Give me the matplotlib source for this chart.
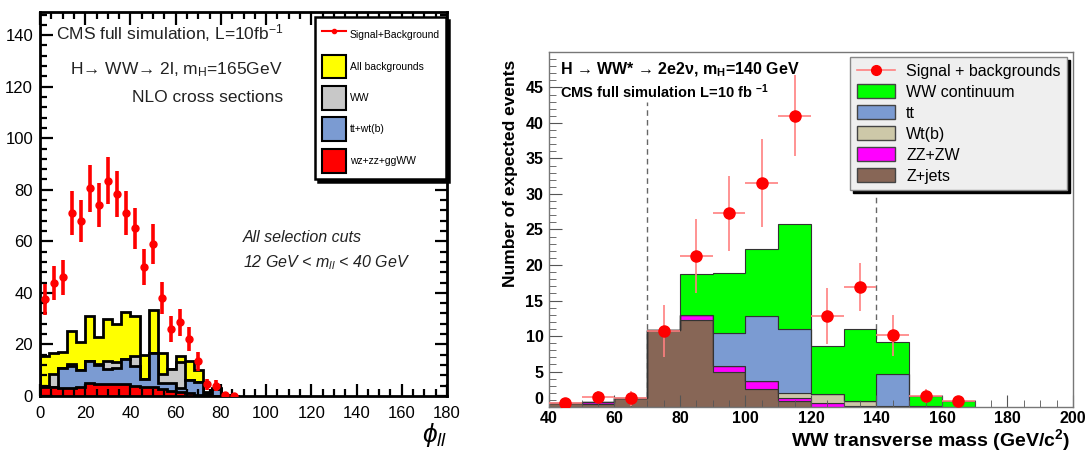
import numpy as np
import matplotlib.pyplot as plt
from matplotlib.ticker import MultipleLocator
from matplotlib.lines import Line2D
from matplotlib.patches import Patch

plt.rcParams['font.family'] = ['Liberation Sans', 'DejaVu Sans']
plt.rcParams['mathtext.fontset'] = 'custom'
plt.rcParams['mathtext.rm'] = 'Liberation Sans'
plt.rcParams['mathtext.it'] = 'Liberation Sans:italic'
plt.rcParams['mathtext.bf'] = 'Liberation Sans:bold'

# ---- left panel: phi_ll, 4 degree bins from 0 to 88
phi_edges = np.arange(0, 92, 4)
phi_centers = phi_edges[:-1] + 2
all_bkg = [15.5, 16.5, 17, 25, 21, 31, 23, 30, 28, 32.5, 31, 16, 33.5, 16.5, 10.5, 15.5, 13.5, 10, 1.5, 3, 0.5, 0]
ww_cum = [4, 8.5, 11, 12.5, 10, 13.5, 12.5, 13.5, 13, 14.5, 15.5, 6.5, 16.5, 8.5, 10.5, 13, 6, 5.5, 1, 2.5, 0.3, 0]
tt_cum = [4, 3.5, 11, 11.5, 10, 13.5, 12, 10.5, 11, 14.5, 11.5, 6.5, 16.5, 5, 5, 3, 6, 5.5, 0.5, 2.5, 0, 0]
other = [3.5, 3.5, 3, 3, 3.5, 5, 4.5, 4.5, 4.5, 4.5, 4, 3.5, 3.5, 2.5, 2, 1.5, 1, 0.5, 0, 0, 0, 0]
sig_bkg = [37.5, 44, 46, 71, 68, 80.5, 74, 83.5, 78.5, 71, 65, 50, 59, 38, 26, 28.5, 22, 13.5, 4.5, 4, 0.3, 0.1]
sig_err = [6.1, 6.6, 6.8, 8.4, 8.2, 9.0, 8.6, 9.1, 8.9, 8.4, 8.1, 7.1, 7.7, 6.2, 5.1, 5.3, 4.7, 3.7, 2.1, 2.0, 0.5, 0.3]

# ---- right panel: WW transverse mass, 10 GeV bins from 40 to 170
mt_edges = np.arange(40, 180, 10)
mt_centers = mt_edges[:-1] + 5
zjets = [0.5, 0.4, 1.3, 10.8, 12.2, 5.0, 2.6, 0.8, 0.0, 0.0, 0.0, 0.0, 0.0]
zzzw = [0.0, 0.3, 0.0, 0.0, 0.7, 0.8, 1.0, 0.4, 0.5, 0.2, 0.1, 0.0, 0.0]
wtb = [0.0, 0.0, 0.0, 0.0, 0.0, 0.0, 0.0, 0.8, 1.3, 0.6, 0.1, 0.2, 0.0]
ttbar = [0.0, 0.0, 0.0, 0.0, 0.0, 4.6, 9.2, 9.0, 0.0, 0.0, 4.5, 0.0, 0.0]
wwcont = [0.0, 0.0, 0.0, 0.0, 5.9, 8.5, 9.5, 14.8, 6.8, 10.2, 4.5, 1.3, 0.9]
mt_sig = [0.5, 1.4, 1.2, 10.7, 21.3, 27.3, 31.6, 41.0, 12.8, 16.9, 10.1, 1.6, 0.9]
mt_err = [0.7, 0.9, 1.1, 3.6, 5.2, 5.3, 6.2, 5.7, 3.9, 3.4, 2.9, 1.0, 0.7]
cuts = [70, 140]

fig = plt.figure(figsize=(10.91, 4.54), dpi=100)

# ================= left
ax = fig.add_axes([0.0367, 0.128, 0.373, 0.8456])
layers = [(all_bkg, '#ffff00'), (ww_cum, '#c8c8c8'), (tt_cum, '#7b9bd2'), (other, '#ff0000')]
for vals, col in layers:
    ax.stairs(vals, phi_edges, fill=True, color=col, lw=0)
    ax.stairs(vals, phi_edges, baseline=0, fill=False, color='black', lw=2)
ax.errorbar(phi_centers, sig_bkg, yerr=sig_err, fmt='o', color='#ff0000', ms=5,
            elinewidth=2.6, capsize=0, zorder=5)

ax.set_xlim(0, 180)
ax.set_ylim(0, 149)
ax.xaxis.set_major_locator(MultipleLocator(20))
ax.xaxis.set_minor_locator(MultipleLocator(5))
ax.yaxis.set_major_locator(MultipleLocator(20))
ax.yaxis.set_minor_locator(MultipleLocator(4))
ax.tick_params(which='both', direction='in', top=True, right=True, width=1.6, labelsize=12)
ax.tick_params(which='major', length=9)
ax.tick_params(which='minor', length=5)
ax.tick_params(axis='x', pad=7)
ax.tick_params(axis='y', pad=5)
for s in ax.spines.values():
    s.set_linewidth(2)

ax.text(107.5, 138.5, 'CMS full simulation, L=10fb$^{-1}$', ha='right', va='baseline', fontsize=12.5, color='#222222')
ax.text(107.5, 125.0, 'H\u2192 WW\u2192 2l, m$_\\mathrm{H}$=165GeV', ha='right', va='baseline', fontsize=12.5, color='#222222')
ax.text(107.5, 114.0, 'NLO cross sections', ha='right', va='baseline', fontsize=12.5, color='#222222')
ax.text(89.8, 61.4, 'All selection cuts', ha='left', va='center', fontsize=11.5, style='italic', color='#222222')
ax.text(89.8, 51.7, '12 GeV < m$_{ll}$ < 40 GeV', ha='left', va='center', fontsize=11.5, style='italic', color='#222222')
ax.set_xlabel('$\\phi_{ll}$', fontsize=19, loc='right')
ax.xaxis.set_label_coords(1.0, -0.065)

h_left = [Line2D([], [], color='#ff0000', marker='o', ms=3, lw=1.5),
          Patch(facecolor='#ffff00', edgecolor='black', lw=1.5),
          Patch(facecolor='#c8c8c8', edgecolor='black', lw=1.5),
          Patch(facecolor='#7b9bd2', edgecolor='black', lw=1.5),
          Patch(facecolor='#ff0000', edgecolor='black', lw=1.5)]
lab_left = ['Signal+Background', 'All backgrounds', 'WW', 'tt+wt(b)', 'wz+zz+ggWW']
leg = ax.legend(h_left, lab_left, loc='upper right', bbox_to_anchor=(0.998, 0.987),
                borderaxespad=0, fontsize=7.5, handlelength=2.3, handleheight=3.15,
                labelspacing=0.72, borderpad=0.6, handletextpad=0.4,
                fancybox=False, framealpha=1, edgecolor='black',
                shadow={'color': 'black', 'alpha': 1})
leg.get_frame().set_linewidth(1.8)

# ================= right
bx = fig.add_axes([0.5032, 0.1035, 0.4803, 0.782])
for c in cuts:
    bx.vlines(c, 0, 43, colors='#666666', linestyles=(0, (4, 3)), lw=1, zorder=0.5)
stack = [(zjets, '#876656', 'Z+jets'), (zzzw, '#ff00ff', 'ZZ+ZW'), (wtb, '#cdc8a8', 'Wt(b)'),
         (ttbar, '#7b9bd2', 'tt'), (wwcont, '#00ff00', 'WW continuum')]
bottom = np.zeros(len(zjets))
for vals, col, lab in stack:
    top = bottom + np.array(vals)
    bx.stairs(top, mt_edges, baseline=bottom, fill=True, facecolor=col, edgecolor='#333333', lw=0.8, zorder=1)
    bottom = top
bx.errorbar(mt_centers, mt_sig, yerr=mt_err, xerr=5, fmt='none', ecolor='#ff8080', elinewidth=1.2, zorder=4)
bx.plot(mt_centers, mt_sig, 'o', color='#ff0000', ms=8, zorder=5)

bx.set_xlim(40, 200)
bx.set_ylim(0, 50)
bx.xaxis.set_major_locator(MultipleLocator(20))
bx.xaxis.set_minor_locator(MultipleLocator(5))
bx.yaxis.set_major_locator(MultipleLocator(5))
bx.yaxis.set_minor_locator(MultipleLocator(1))
bx.set_yticks([0, 5, 10, 15, 20, 25, 30, 35, 40, 45])
bx.tick_params(which='both', direction='in', color='#555555', labelsize=11.5)
bx.tick_params(which='major', length=9)
bx.tick_params(which='minor', length=5)
bx.tick_params(axis='x', pad=3)
bx.tick_params(axis='y', pad=4)
for t in bx.get_xticklabels() + bx.get_yticklabels():
    t.set_fontweight('bold')
# the zero label sits in the corner, lift it above the 40 of the x axis
bx.get_yticklabels()[0].set_va('bottom')
for s in bx.spines.values():
    s.set_color('#777777')
    s.set_linewidth(1)

bx.text(43.5, 46.8, 'H \u2192 WW* \u2192 2e2\u03bd, m$_{\\mathbf{H}}$=140 GeV', fontsize=11.5, fontweight='bold', va='baseline')
bx.text(43.5, 43.5, 'CMS full simulation L=10 fb $^{\\mathbf{-1}}$', fontsize=10.5, fontweight='bold', va='baseline')
bx.set_ylabel('Number of expected events', fontsize=12.5, fontweight='bold', loc='top')
bx.yaxis.set_label_coords(-0.06, 0.977)
bx.set_xlabel('WW transverse mass (GeV/c$^{\\mathbf{2}}$)', fontsize=14, fontweight='bold', loc='right')
bx.xaxis.set_label_coords(0.995, -0.056)

h_right = [Line2D([], [], color='#ff8080', lw=1.2, marker='o', mfc='#ff0000', mec='#ff0000', ms=7)]
lab_right = ['Signal + backgrounds']
for vals, col, lab in reversed(stack):
    h_right.append(Patch(facecolor=col, edgecolor='#444444', lw=1))
    lab_right.append(lab)
leg2 = bx.legend(h_right, lab_right, loc='upper right', bbox_to_anchor=(0.9885, 0.986),
                 borderaxespad=0, fontsize=11.5, handlelength=2.4, handleheight=0.95,
                 labelspacing=0.35, borderpad=0.4, handletextpad=0.7,
                 fancybox=False, framealpha=1, facecolor='#efefef', edgecolor='#888888',
                 shadow={'color': 'black', 'alpha': 1})

fig.savefig('out.png', dpi=100)
